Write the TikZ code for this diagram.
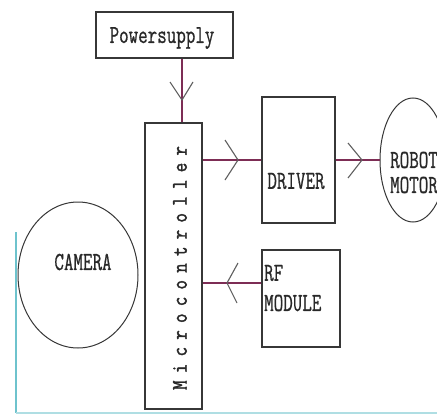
\documentclass[tikz,border=0pt]{standalone}
\usepackage{fontspec}
\usepackage{graphicx}
\newfontfamily\dmono{Latin Modern Mono}[FakeBold=0.9]
\newfontfamily\dmonob{Latin Modern Mono}[FakeBold=1.8,LetterSpace=39]
\usetikzlibrary{shapes.geometric}
\definecolor{connc}{RGB}{125,45,85}
\definecolor{edgec}{RGB}{55,55,55}
\definecolor{txtc}{RGB}{40,40,40}
\definecolor{tealc}{RGB}{110,195,205}
\newcommand{\stt}[1]{\scalebox{1}[1.4]{#1}}
\begin{document}
\begin{tikzpicture}[x=1pt,y=-1pt,
  blk/.style={draw=edgec,line width=1.5pt,inner sep=0pt},
  oval/.style={draw=edgec,line width=1pt,ellipse,inner sep=0pt},
  lbl/.style={inner sep=0pt,text=txtc,font=\dmono\fontsize{18.5}{18.5}\selectfont},
  wire/.style={draw=connc,line width=1.5pt},
  vhead/.style={draw=edgec!80,line width=1.1pt}]
\useasboundingbox (0,0) rectangle (437,415);
\clip (0,0) rectangle (437,415);
\fill[white] (0,0) rectangle (437,415);
% window edge artefacts
\draw[tealc,line width=1.3pt] (16,232) -- (16,413);
\draw[tealc!55,line width=2pt] (16,413) -- (437,413);
% blocks
\node[blk,minimum width=137pt,minimum height=46pt] (ps) at (164.5,35) {};
\node[blk,minimum width=57pt,minimum height=286pt] (mc) at (173.5,266) {};
\node[blk,minimum width=73pt,minimum height=126pt] (drv) at (298.5,160) {};
\node[blk,minimum width=78pt,minimum height=97pt] (rf) at (301,298.5) {};
\node[oval,minimum width=120pt,minimum height=146pt] (cam) at (78,275) {};
\node[oval,minimum width=66pt,minimum height=124pt] (mot) at (413,160) {};
% labels
\node[lbl] (pst) at (162,38) {\stt{Powersupply}};
\node[lbl,rotate=90,font=\dmonob\fontsize{18.5}{18.5}\selectfont] (mct) at (180,268) {\scalebox{1}[1.2]{Microcontroller}};
\node[lbl] (drvt) at (296,181) {\stt{DRIVER}};
\node[lbl,anchor=west] (rft) at (264,273) {\stt{RF}};
\node[lbl,anchor=west] (rfm) at (264,303) {\stt{MODULE}};
\node[lbl] (camt) at (83,262) {\stt{CAMERA}};
\node[lbl,anchor=west] (mott1) at (390,160) {\stt{ROBOT}};
\node[lbl,anchor=west] (mott2) at (390,185) {\stt{MOTOR}};
% connectors
\coordinate (pcol) at (182,0);
\coordinate (rfrow) at (0,283);
\draw[wire] (ps.south -| pcol) -- (mc.north -| pcol);
\draw[wire] (mc.east |- drv.west) -- (drv.west);
\draw[wire] (drv.east) -- (mot.west);
\draw[wire] (rf.west |- rfrow) -- (mc.east |- rfrow);
% open arrowheads drawn mid-line
\draw[vhead] (170,82) -- (182,100) -- (193,82);
\draw[vhead] (225,140) -- (238,160) -- (225,180);
\draw[vhead] (348,143) -- (362,160) -- (348,178);
\draw[vhead] (238,263) -- (227,283) -- (237,303);
\end{tikzpicture}
\end{document}
